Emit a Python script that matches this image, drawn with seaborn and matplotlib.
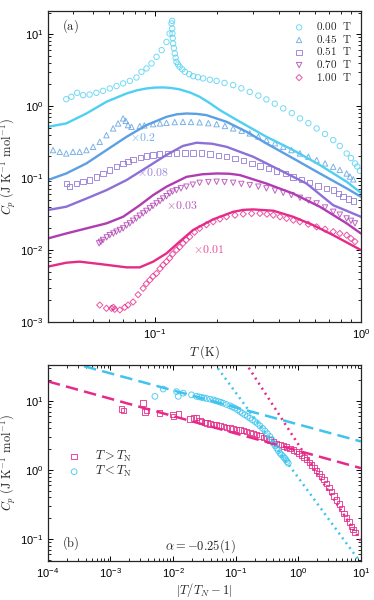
import matplotlib
matplotlib.use("Agg")
import matplotlib.pyplot as plt
import seaborn as sns
import numpy as np

# ---------------- panel (a) data ----------------
fields = ["0.00", "0.45", "0.51", "0.70", "1.00"]
colors = ["#4fd0f2", "#5c9fe3", "#8c70d8", "#b03cb2", "#e62a8a"]
markers = ["o", "^", "s", "v", "D"]
scale_labels = [None, r"$\times 0.2$", r"$\times 0.08$", r"$\times 0.03$", r"$\times 0.01$"]
scale_pos_T = [None, 0.0757, 0.0818, 0.113, 0.153]
scale_pos_C = [None, 0.36, 0.117, 0.041, 0.0100]

T_00 = [0.0372, 0.0394, 0.0420, 0.0449, 0.0483, 0.0521, 0.0561, 0.0605, 0.0652, 0.0702,
        0.0757, 0.0815, 0.0862, 0.0912, 0.0964, 0.102, 0.108, 0.114, 0.118, 0.1205, 0.1213,
        0.1215, 0.1218, 0.1222, 0.1227, 0.1238, 0.125, 0.1262, 0.1274, 0.1297, 0.132,
        0.136, 0.140, 0.147, 0.1535, 0.162, 0.1716, 0.185, 0.1995, 0.218, 0.240, 0.263,
        0.289, 0.318, 0.348, 0.382, 0.420, 0.462, 0.506, 0.556, 0.610, 0.670, 0.734,
        0.79, 0.853, 0.895, 0.936, 0.96, 0.989]
C_00 = [1.25, 1.35, 1.53, 1.42, 1.45, 1.53, 1.63, 1.76, 1.90, 2.07,
        2.24, 2.50, 3.00, 3.34, 3.92, 4.84, 6.0, 7.8, 10.2, 14.1, 15.3,
        12.0, 10.2, 8.8, 7.43, 6.4, 5.40, 4.7, 4.12, 3.8, 3.52,
        3.25, 3.0, 2.78, 2.61, 2.52, 2.43, 2.33, 2.24, 2.10, 1.96, 1.77,
        1.58, 1.40, 1.24, 1.08, 0.93, 0.80, 0.675, 0.58, 0.49, 0.41, 0.337,
        0.28, 0.22, 0.19, 0.16, 0.145, 0.126]

T_45 = [0.0321, 0.0346, 0.0372, 0.0401, 0.0432, 0.0466, 0.0502, 0.0541, 0.0583, 0.0628,
        0.0664, 0.0702, 0.0723, 0.0742, 0.0771, 0.0846, 0.089, 0.0982, 0.106, 0.114,
        0.125, 0.137, 0.15, 0.165, 0.182, 0.1995, 0.219, 0.240, 0.264, 0.289,
        0.318, 0.348, 0.383, 0.420, 0.46, 0.506, 0.556, 0.610, 0.67, 0.734,
        0.79, 0.853, 0.885, 0.918]
C_45 = [0.245, 0.232, 0.220, 0.232, 0.232, 0.245, 0.272, 0.319, 0.395, 0.49,
        0.575, 0.675, 0.625, 0.545, 0.516, 0.527, 0.54, 0.562, 0.575, 0.586,
        0.60, 0.605, 0.603, 0.596, 0.58, 0.562, 0.53, 0.49, 0.455, 0.418,
        0.378, 0.337, 0.305, 0.272, 0.245, 0.220, 0.198, 0.178, 0.16, 0.144,
        0.13, 0.116, 0.105, 0.096]

T_51 = [0.0372, 0.0387, 0.0417, 0.0449, 0.0483, 0.0521, 0.0561, 0.0605, 0.0652, 0.0702,
        0.0743, 0.0785, 0.085, 0.0912, 0.098, 0.1057, 0.116, 0.1274, 0.14, 0.1535,
        0.169, 0.185, 0.204, 0.223, 0.245, 0.2685, 0.296, 0.3236, 0.356, 0.390,
        0.43, 0.469, 0.515, 0.565, 0.62, 0.681, 0.734, 0.78, 0.82, 0.87, 0.918]
C_51 = [0.0844, 0.0758, 0.0844, 0.089, 0.094, 0.104, 0.116, 0.129, 0.144, 0.16,
        0.171, 0.182, 0.192, 0.202, 0.209, 0.2155, 0.22, 0.2245, 0.2245, 0.2245,
        0.222, 0.2155, 0.207, 0.198, 0.186, 0.174, 0.16, 0.147, 0.136, 0.126,
        0.115, 0.104, 0.095, 0.086, 0.078, 0.071, 0.068, 0.061, 0.055, 0.051, 0.048]

T_70 = [0.0537, 0.0548, 0.0561, 0.0585, 0.0605, 0.063, 0.0652, 0.0677, 0.0702, 0.073,
        0.0757, 0.0785, 0.0815, 0.0846, 0.0878, 0.091, 0.0946, 0.098, 0.102, 0.106,
        0.1097, 0.114, 0.118, 0.122, 0.1274, 0.134, 0.1425, 0.153, 0.165, 0.182,
        0.1995, 0.218, 0.240, 0.263, 0.289, 0.318, 0.348, 0.383, 0.420, 0.46,
        0.506, 0.556, 0.610, 0.67, 0.734, 0.79, 0.853, 0.895, 0.936]
C_70 = [0.0124, 0.013, 0.0138, 0.015, 0.0161, 0.017, 0.018, 0.019, 0.020, 0.022,
        0.0235, 0.0255, 0.0275, 0.030, 0.0323, 0.035, 0.038, 0.041, 0.0445, 0.048,
        0.052, 0.056, 0.061, 0.065, 0.068, 0.072, 0.076, 0.081, 0.086, 0.088,
        0.089, 0.088, 0.086, 0.083, 0.080, 0.076, 0.072, 0.067, 0.0625, 0.058,
        0.0533, 0.049, 0.0445, 0.039, 0.034, 0.031, 0.0275, 0.0255, 0.0235]

T_100 = [0.0541, 0.0583, 0.0617, 0.0630, 0.064, 0.0677, 0.0715, 0.0742, 0.0785, 0.083,
         0.0878, 0.091, 0.0946, 0.098, 0.102, 0.106, 0.1097, 0.114, 0.118, 0.122,
         0.1274, 0.132, 0.137, 0.142, 0.1478, 0.156, 0.165, 0.178, 0.192, 0.207,
         0.223, 0.245, 0.2685, 0.295, 0.3236, 0.35, 0.376, 0.405, 0.436, 0.47,
         0.506, 0.556, 0.610, 0.67, 0.734, 0.79, 0.853, 0.895, 0.936]
C_100 = [0.00172, 0.00155, 0.00155, 0.0016, 0.0015, 0.00147, 0.0016, 0.00172, 0.0019, 0.0024,
         0.00294, 0.0034, 0.00383, 0.0043, 0.00474, 0.0055, 0.0062, 0.0069, 0.0077, 0.0088,
         0.0100, 0.011, 0.0124, 0.0138, 0.0153, 0.0177, 0.020, 0.0225, 0.0247, 0.027,
         0.029, 0.0305, 0.0316, 0.0322, 0.0323, 0.0315, 0.0306, 0.029, 0.0275, 0.026,
         0.0247, 0.0228, 0.021, 0.0195, 0.018, 0.017, 0.0161, 0.0145, 0.0131]

# model curves
LT_00 = [0.0303, 0.0372, 0.0466, 0.0583, 0.0730, 0.0820, 0.0912, 0.1000, 0.1097, 0.120,
         0.132, 0.148, 0.165, 0.185, 0.207, 0.259, 0.348, 0.469, 0.632, 0.853, 1.0]
LC_00 = [0.516, 0.575, 0.79, 1.15, 1.50, 1.66, 1.76, 1.81, 1.82, 1.79,
         1.71, 1.55, 1.35, 1.10, 0.88, 0.605, 0.375, 0.245, 0.152, 0.089, 0.0625]
LT_45 = [0.0303, 0.0372, 0.0466, 0.0583, 0.0730, 0.0912, 0.114, 0.128, 0.1425, 0.160,
         0.178, 0.223, 0.279, 0.348, 0.469, 0.632, 0.853, 1.0]
LC_45 = [0.094, 0.116, 0.160, 0.245, 0.375, 0.545, 0.71, 0.77, 0.79, 0.78,
         0.75, 0.605, 0.44, 0.303, 0.188, 0.116, 0.072, 0.055]
LT_51 = [0.0303, 0.0372, 0.0466, 0.0583, 0.0730, 0.0912, 0.114, 0.137, 0.1594, 0.190,
         0.223, 0.300, 0.405, 0.545, 0.734, 1.0]
LC_51 = [0.036, 0.040, 0.052, 0.068, 0.094, 0.14, 0.21, 0.28, 0.31, 0.30,
         0.272, 0.198, 0.129, 0.084, 0.042, 0.029]
LT_70 = [0.0303, 0.0372, 0.0466, 0.0583, 0.0702, 0.0846, 0.0982, 0.114, 0.1425, 0.170,
         0.1995, 0.230, 0.259, 0.348, 0.469, 0.632, 0.853, 1.0]
LC_70 = [0.0145, 0.017, 0.020, 0.0235, 0.029, 0.042, 0.058, 0.076, 0.104, 0.113,
         0.116, 0.115, 0.110, 0.084, 0.061, 0.040, 0.0235, 0.017]
LT_100 = [0.0303, 0.0372, 0.0432, 0.0541, 0.0730, 0.0846, 0.0982, 0.114, 0.132, 0.1535,
          0.192, 0.240, 0.270, 0.300, 0.376, 0.469, 0.587, 0.734, 1.0]
LC_100 = [0.00588, 0.00667, 0.0069, 0.0064, 0.00575, 0.00575, 0.0069, 0.009, 0.0131, 0.019,
          0.0267, 0.034, 0.0362, 0.0367, 0.0352, 0.029, 0.0222, 0.0161, 0.010]

# ---------------- panel (b) data ----------------
t_above = [0.00150, 0.0016, 0.00333, 0.00355, 0.0038, 0.0060, 0.0100, 0.0102, 0.0121, 0.0185,
           0.0210, 0.0237, 0.0268, 0.0285, 0.0322, 0.035, 0.0387, 0.044, 0.0494, 0.056,
           0.0632, 0.0715, 0.0807, 0.091, 0.103, 0.117, 0.132, 0.15, 0.169, 0.19,
           0.215, 0.245, 0.275, 0.31, 0.352, 0.40, 0.450, 0.51, 0.574, 0.65,
           0.734, 0.83, 0.938, 1.03, 1.13, 1.24, 1.36, 1.5, 1.63, 1.8,
           1.96, 2.15, 2.35, 2.58, 2.83, 3.1, 3.40, 3.72, 4.08, 4.5,
           4.91, 5.4, 5.90, 6.5, 7.10, 7.5, 8.02]
c_above = [7.57, 7.17, 9.25, 6.85, 7.2, 6.62, 6.27, 5.93, 6.41, 5.42,
           5.61, 5.73, 5.19, 5.0, 4.85, 4.75, 4.64, 4.55, 4.44, 4.35,
           4.25, 4.15, 4.06, 3.97, 3.88, 3.8, 3.71, 3.6, 3.47, 3.36,
           3.25, 3.1, 2.97, 2.85, 2.72, 2.58, 2.43, 2.33, 2.23, 2.15,
           2.06, 1.95, 1.84, 1.72, 1.60, 1.5, 1.40, 1.29, 1.18, 1.08,
           0.978, 0.89, 0.80, 0.72, 0.64, 0.56, 0.485, 0.42, 0.367, 0.32,
           0.278, 0.235, 0.20, 0.175, 0.151, 0.138, 0.124]
t_below = [0.00512, 0.00695, 0.01135, 0.0121, 0.0145, 0.0197, 0.0237, 0.026, 0.0285, 0.031,
           0.0343, 0.039, 0.0438, 0.048, 0.0526, 0.058, 0.0632, 0.071, 0.0807, 0.088,
           0.097, 0.107, 0.117, 0.128, 0.140, 0.154, 0.169, 0.185, 0.203, 0.222,
           0.244, 0.268, 0.293, 0.32, 0.352, 0.375, 0.398, 0.425, 0.450, 0.48,
           0.508, 0.54, 0.574, 0.605, 0.634, 0.66, 0.691]
c_below = [11.6, 14.8, 13.6, 11.6, 12.9, 12.2, 11.6, 11.4, 11.2, 11.0,
           10.8, 10.55, 10.3, 10.0, 9.78, 9.5, 9.25, 8.85, 8.47, 8.15,
           7.83, 7.4, 7.0, 6.6, 6.27, 5.95, 5.61, 5.3, 5.01, 4.7,
           4.34, 4.0, 3.67, 3.35, 3.04, 2.75, 2.43, 2.25, 2.06, 1.9,
           1.75, 1.65, 1.56, 1.48, 1.40, 1.32, 1.25]
# fitted power-law lines (end points)
fit_t_full = [1e-4, 10.0]
fit_above_crit = [19.1, 1.06]
fit_below_crit = [44.0, 2.58]
fit_t_below_hi = [0.04, 10.0]
fit_below_hi = [40.8, 0.0449]
fit_t_above_hi = [0.1, 10.0]
fit_above_hi = [59.0, 0.093]

# ---------------- style ----------------
sns.set_theme(style="ticks")
plt.rcParams["font.family"] = ["Liberation Sans", "DejaVu Sans"]
plt.rcParams["mathtext.fontset"] = "cm"
plt.rcParams["axes.linewidth"] = 0.9
for ax_ in ("xtick", "ytick"):
    plt.rcParams[f"{ax_}.direction"] = "in"
    plt.rcParams[f"{ax_}.major.size"] = 3.5
    plt.rcParams[f"{ax_}.minor.size"] = 2.0
    plt.rcParams[f"{ax_}.major.width"] = 0.7
    plt.rcParams[f"{ax_}.minor.width"] = 0.6
    plt.rcParams[f"{ax_}.labelsize"] = 8
    plt.rcParams[f"{ax_}.color"] = "black"
plt.rcParams["xtick.top"] = True
plt.rcParams["ytick.right"] = True

fig = plt.figure(figsize=(3.74, 6.0), dpi=100)
axa = fig.add_axes([0.128, 0.4633, 0.837, 0.5184])
axb = fig.add_axes([0.128, 0.065, 0.837, 0.3267])

pts = [(T_00, C_00), (T_45, C_45), (T_51, C_51), (T_70, C_70), (T_100, C_100)]
lines = [(LT_00, LC_00), (LT_45, LC_45), (LT_51, LC_51), (LT_70, LC_70), (LT_100, LC_100)]
ylabel = r"$C_p\ (\mathrm{J\ K^{-1}\ mol^{-1}})$"

for i in range(5):
    lx, ly = lines[i]
    sns.lineplot(x=lx, y=ly, color=colors[i], linewidth=1.7, ax=axa, sort=False)
for i in range(5):
    px, py = pts[i]
    sns.scatterplot(x=px, y=py, marker=markers[i], s=15 if markers[i] != "D" else 10,
                    edgecolor=colors[i], facecolor="none", linewidth=0.7, alpha=0.8,
                    ax=axa, label=r"$\mathrm{%s\ \ T}$" % fields[i])
    if scale_labels[i]:
        axa.text(scale_pos_T[i], scale_pos_C[i], scale_labels[i], color=colors[i],
                 fontsize=8.5, va="center", ha="left", alpha=0.85)

axa.set_xscale("log")
axa.set_yscale("log")
axa.set_xlim(0.0303, 1.0)
axa.set_ylim(1e-3, 21)
axa.set_xlabel(r"$T\ (\mathrm{K})$", fontsize=9, labelpad=2)
axa.set_ylabel(ylabel, fontsize=9)
axa.yaxis.set_label_coords(-0.095, 0.5)
axa.text(0.045, 0.95, r"$\mathrm{(a)}$", transform=axa.transAxes, fontsize=9,
         va="center", ha="left")
axa.legend(loc="upper right", bbox_to_anchor=(0.995, 0.995), frameon=False,
           fontsize=8, handlelength=1.0, handletextpad=1.0, labelspacing=0.05,
           borderpad=0.2)
axa.tick_params(which="both", top=True, right=True)

# panel (b)
c_cyan = "#3ec4ef"
c_pink = "#e62a8a"
sns.lineplot(x=fit_t_full, y=fit_below_crit, color=c_cyan, linewidth=1.8, ax=axb,
             linestyle=(0, (5, 2.5)))
sns.lineplot(x=fit_t_full, y=fit_above_crit, color=c_pink, linewidth=1.8, ax=axb,
             linestyle=(0, (5, 2.5)))
sns.lineplot(x=fit_t_below_hi, y=fit_below_hi, color=c_cyan, linewidth=1.8, ax=axb,
             linestyle=(0, (0.8, 1.6)))
sns.lineplot(x=fit_t_above_hi, y=fit_above_hi, color=c_pink, linewidth=1.8, ax=axb,
             linestyle=(0, (0.8, 1.6)))
sns.scatterplot(x=t_above, y=c_above, marker="s", s=15, edgecolor=c_pink, facecolor="none",
                linewidth=0.7, alpha=0.85, ax=axb, label=r"$T > T_\mathrm{N}$")
sns.scatterplot(x=t_below, y=c_below, marker="o", s=17, edgecolor=c_cyan, facecolor="none",
                linewidth=0.7, alpha=0.85, ax=axb, label=r"$T < T_\mathrm{N}$")
axb.set_xscale("log")
axb.set_yscale("log")
axb.set_xlim(1e-4, 10)
axb.set_ylim(0.048, 33)
axb.set_xlabel(r"$|T/T_N-1|$", fontsize=9, labelpad=1)
axb.set_ylabel(ylabel, fontsize=9)
axb.yaxis.set_label_coords(-0.095, 0.5)
axb.text(0.045, 0.09, r"$\mathrm{(b)}$", transform=axb.transAxes, fontsize=9,
         va="center", ha="left")
axb.text(0.486, 0.075, r"$\alpha = -0.25(1)$", transform=axb.transAxes, fontsize=9,
         va="center", ha="center")
axb.legend(loc="center left", bbox_to_anchor=(0.04, 0.495), frameon=False, fontsize=9,
           handlelength=1.0, handletextpad=1.2, labelspacing=0.0, borderpad=0.1)
axb.xaxis.set_major_locator(matplotlib.ticker.LogLocator(base=10, numticks=10))
axb.xaxis.set_minor_locator(matplotlib.ticker.LogLocator(base=10, subs=np.arange(2, 10), numticks=20))
axb.tick_params(which="both", top=True, right=True)

fig.savefig("out.png", dpi=100)
